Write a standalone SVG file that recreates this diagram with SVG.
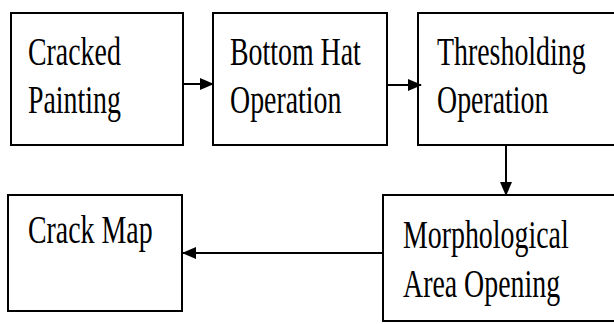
<svg xmlns="http://www.w3.org/2000/svg" width="614" height="324" viewBox="0 0 614 324">
<defs>
<style>
.box{fill:#fff;stroke:#000;stroke-width:2}
.t{font-family:"Liberation Serif","Times New Roman",serif;font-size:41px;fill:#000}
.c{stroke:#000;stroke-width:2;fill:none}
</style>
<marker id="ah" markerWidth="14" markerHeight="12" refX="13" refY="6" orient="auto" markerUnits="userSpaceOnUse">
<path d="M0,0 L14,6 L0,12 Z" fill="#000"/>
</marker>
</defs>
<rect width="614" height="324" fill="#fff"/>
<g id="n1">
<rect class="box" x="11" y="13" width="172" height="132"/>
<text class="t" transform="translate(28,65) scale(0.68,1)">Cracked</text>
<text class="t" transform="translate(28,113) scale(0.68,1)">Painting</text>
</g>
<g id="n2">
<rect class="box" x="213" y="13" width="174" height="132"/>
<text class="t" transform="translate(230,65) scale(0.68,1)">Bottom Hat</text>
<text class="t" transform="translate(230,113) scale(0.68,1)">Operation</text>
</g>
<g id="n3">
<path class="box" d="M614,13 H418 V145 H614"/>
<text class="t" transform="translate(437,65) scale(0.68,1)">Thresholding</text>
<text class="t" transform="translate(437,113) scale(0.68,1)">Operation</text>
</g>
<g id="n4">
<path class="box" d="M614,195 H383 V321 H614"/>
<text class="t" transform="translate(403,248) scale(0.68,1)">Morphological</text>
<text class="t" transform="translate(403,297) scale(0.68,1)">Area Opening</text>
</g>
<g id="n5">
<rect class="box" x="8" y="195" width="174" height="116"/>
<text class="t" transform="translate(28,243) scale(0.68,1)">Crack Map</text>
</g>
<g id="connectors">
<line class="c" x1="183" y1="84" x2="213" y2="84" marker-end="url(#ah)"/>
<line class="c" x1="387" y1="85" x2="421" y2="85" marker-end="url(#ah)"/>
<line class="c" x1="506" y1="145" x2="506" y2="195" marker-end="url(#ah)"/>
<line class="c" x1="383" y1="253" x2="183" y2="253" marker-end="url(#ah)"/>
</g>
</svg>
